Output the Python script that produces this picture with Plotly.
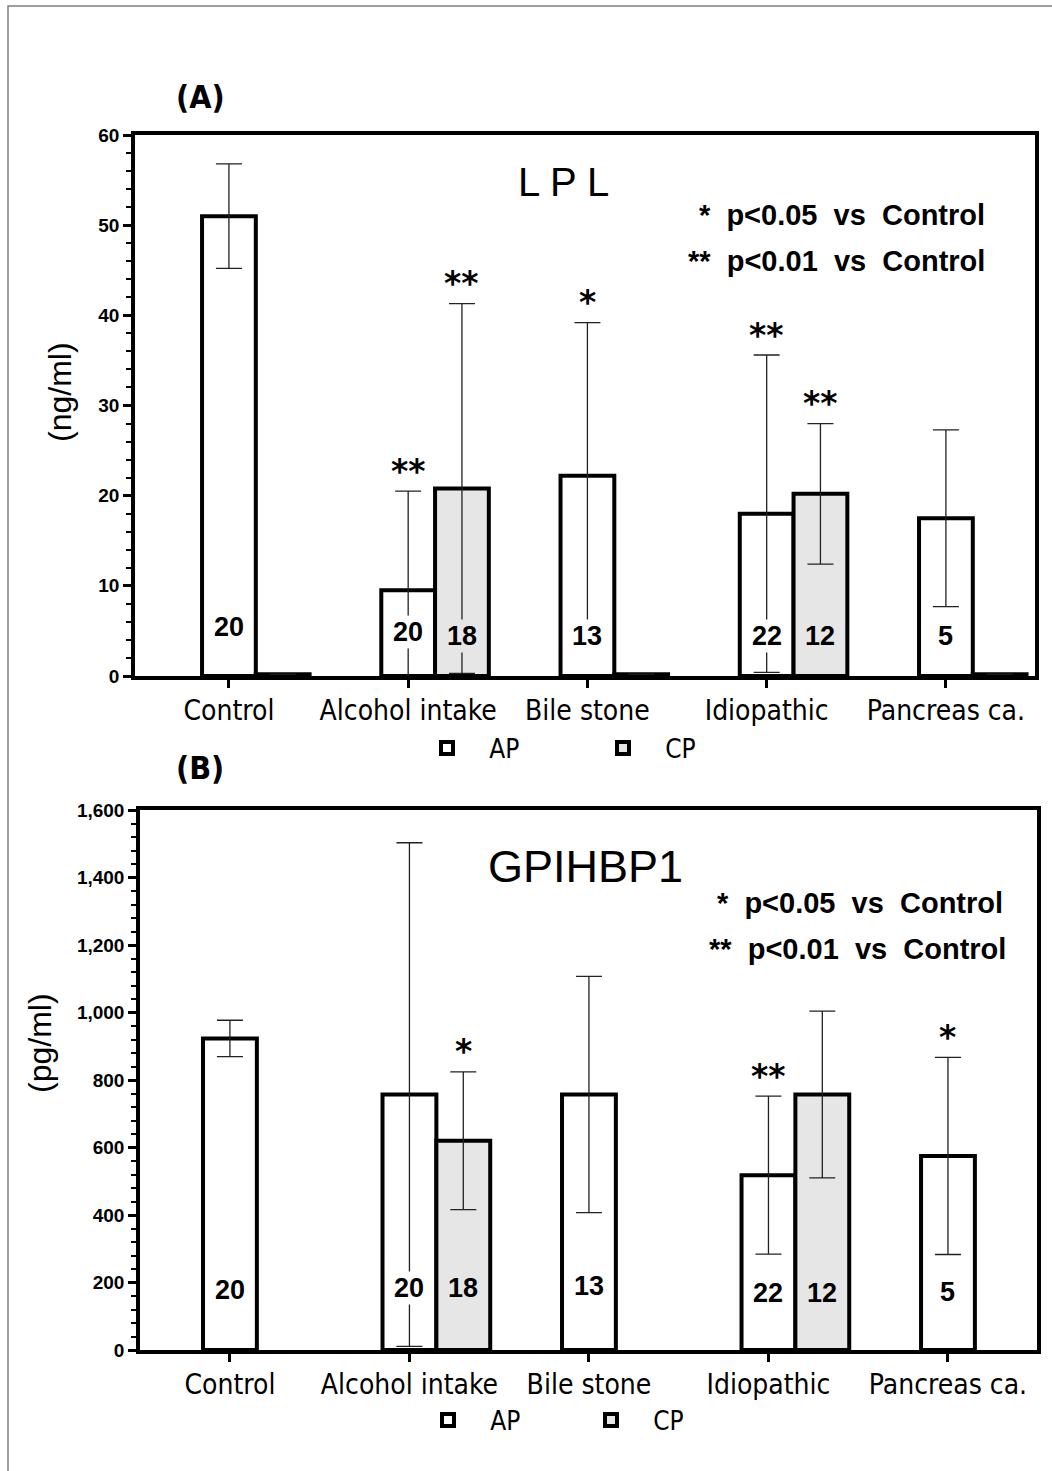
import plotly.graph_objects as go

# ---------------- data ----------------
categories = ["Control", "Alcohol intake", "Bile stone", "Idiopathic", "Pancreas ca."]
cat_pos = [0, 1, 2, 3, 4]
bar_w = 0.3

# (A) LPL, ng/ml
lpl_ap_mean = [51.0, 9.5, 22.2, 18.0, 17.5]
lpl_ap_sd = [5.8, 11.0, 17.0, 17.6, 9.8]
lpl_cp_mean = [0.2, 20.8, 0.2, 20.2, 0.2]
lpl_cp_sd = [0, 20.5, 0, 7.8, 0]
lpl_ap_n = ["20", "20", "13", "22", "5"]
lpl_cp_n = ["", "18", "", "12", ""]
lpl_ap_sig = ["", "**", "*", "**", ""]
lpl_cp_sig = ["", "**", "", "**", ""]

# (B) GPIHBP1, pg/ml
gp_ap_mean = [923, 757, 757, 518, 575]
gp_ap_sd = [54, 746, 350, 234, 292]
gp_cp_mean = [None, 620, None, 757, None]
gp_cp_sd = [None, 204, None, 247, None]
gp_ap_n = ["20", "20", "13", "22", "5"]
gp_cp_n = ["", "18", "", "12", ""]
gp_ap_sig = ["", "", "", "**", "*"]
gp_cp_sig = ["", "*", "", "", ""]

# ---------------- style ----------------
W, H = 1052, 1471
NARROW = "Liberation Sans Narrow, Arial Narrow, DejaVu Sans Condensed, sans-serif"
ARIAL = "Liberation Sans, Arial, sans-serif"
AP_FILL = "#ffffff"
CP_FILL = "#e6e6e6"


def px_x(p):
    return p / W


def px_y(p):
    return 1 - p / H


fig = go.Figure()

cp_pos = [p + bar_w for p in cat_pos]


def add_panel(ap_mean, ap_sd, cp_mean, cp_sd, xa, ya, legend):
    fig.add_trace(go.Bar(
        x=cat_pos, y=ap_mean, width=bar_w, name="   AP",
        marker=dict(color=AP_FILL, line=dict(color="black", width=4)),
        error_y=dict(type="data", array=ap_sd, visible=True,
                     color="#222222", thickness=1.3, width=13),
        xaxis=xa, yaxis=ya, legend=legend, showlegend=True,
    ))
    fig.add_trace(go.Bar(
        x=cp_pos, y=cp_mean, width=bar_w, name="   CP",
        marker=dict(color=CP_FILL, line=dict(color="black", width=4)),
        error_y=dict(type="data", array=cp_sd, visible=True,
                     color="#222222", thickness=1.3, width=13),
        xaxis=xa, yaxis=ya, legend=legend, showlegend=True,
    ))


add_panel(lpl_ap_mean, lpl_ap_sd, lpl_cp_mean, lpl_cp_sd, "x", "y", "legend")
add_panel(gp_ap_mean, gp_ap_sd, gp_cp_mean, gp_cp_sd, "x2", "y2", "legend2")

annotations = []


def add_labels(xref, yref, means, sds, ns, sigs, xs, fill, n_y, star_shift):
    for i in range(len(xs)):
        if ns[i]:
            annotations.append(dict(
                x=xs[i], y=n_y[i], xref=xref, yref=yref, text=ns[i],
                showarrow=False, bgcolor=fill, borderpad=1,
                font=dict(family=ARIAL, size=27, color="black", weight="bold"),
            ))
        if sigs[i] and means[i] is not None:
            annotations.append(dict(
                x=xs[i], y=means[i] + sds[i], xref=xref, yref=yref,
                text=sigs[i], showarrow=False, yanchor="middle", yshift=star_shift,
                font=dict(family="DejaVu Sans, sans-serif", size=33,
                          color="black", weight="bold"),
            ))


nA_ap = [5.4, 4.9, 4.4, 4.4, 4.4]
nA_cp = [0, 4.4, 0, 4.4, 0]
add_labels("x", "y", lpl_ap_mean, lpl_ap_sd, lpl_ap_n, lpl_ap_sig, cat_pos, AP_FILL, nA_ap, 20)
add_labels("x", "y", lpl_cp_mean, lpl_cp_sd, lpl_cp_n, lpl_cp_sig, cp_pos, CP_FILL, nA_cp, 20)
nB_ap = [178, 184, 190, 169, 172]
nB_cp = [0, 184, 0, 169, 0]
add_labels("x2", "y2", gp_ap_mean, gp_ap_sd, gp_ap_n, gp_ap_sig, cat_pos, AP_FILL, nB_ap, 20)
add_labels("x2", "y2", gp_cp_mean, gp_cp_sd, gp_cp_n, gp_cp_sig, cp_pos, CP_FILL, nB_cp, 20)

# titles and texts
texts = [
    ("(A)", 200, 97, dict(family=NARROW, size=32, color="black", weight="bold"), "center", 0),
    ("(B)", 200, 768, dict(family=NARROW, size=32, color="black", weight="bold"), "center", 0),
    ("L P L", 563, 182, dict(family=ARIAL, size=40, color="black"), "center", 0),
    ("GPIHBP1", 585, 866, dict(family=ARIAL, size=45, color="black"), "center", 0),
    ("*  p<0.05  vs  Control", 987, 215, dict(family=ARIAL, size=29, color="black", weight="bold"), "right", 0),
    ("**  p<0.01  vs  Control", 987, 261, dict(family=ARIAL, size=29, color="black", weight="bold"), "right", 0),
    ("*  p<0.05  vs  Control", 1005, 903, dict(family=ARIAL, size=29, color="black", weight="bold"), "right", 0),
    ("**  p<0.01  vs  Control", 1008, 949, dict(family=ARIAL, size=29, color="black", weight="bold"), "right", 0),
    ("(ng/ml)", 60, 392, dict(family=ARIAL, size=32, color="black"), "center", -90),
    ("(pg/ml)", 40, 1043, dict(family=ARIAL, size=32, color="black"), "center", -90),
]
for t, x, y, f, anchor, ang in texts:
    annotations.append(dict(
        x=px_x(x), y=px_y(y), xref="paper", yref="paper", text=t,
        showarrow=False, xanchor=anchor, yanchor="middle", font=f, textangle=ang,
    ))

axis_common = dict(showline=True, linecolor="black", linewidth=3.5, mirror=True,
                   showgrid=False, zeroline=False, ticks="outside", tickcolor="black")

fig.update_layout(
    width=W, height=H,
    margin=dict(l=0, r=0, t=0, b=0, autoexpand=False),
    paper_bgcolor="white", plot_bgcolor="white",
    barmode="overlay",
    annotations=annotations,
    xaxis=dict(domain=[px_x(135), px_x(1035)], range=[-0.524, 4.497], anchor="y",
               tickvals=cat_pos, ticktext=categories, ticklen=8, tickwidth=3,
               ticklabelstandoff=-1,
               tickfont=dict(family=NARROW, size=28, color="black"), **axis_common),
    yaxis=dict(domain=[px_y(676), px_y(135)], range=[0, 60], anchor="x",
               dtick=10, ticklen=8, tickwidth=2.5,
               tickfont=dict(family=ARIAL, size=19, color="black", weight="bold"),
               minor=dict(dtick=2, ticklen=5, tickwidth=1.5, tickcolor="black", ticks="outside"),
               **axis_common),
    xaxis2=dict(domain=[px_x(140), px_x(1037)], range=[-0.501, 4.496], anchor="y2",
                tickvals=cat_pos, ticktext=categories, ticklen=8, tickwidth=3,
                ticklabelstandoff=-1,
                tickfont=dict(family=NARROW, size=28, color="black"), **axis_common),
    yaxis2=dict(domain=[px_y(1350), px_y(810)], range=[0, 1600], anchor="x2",
                dtick=200, tickformat=",", ticklen=8, tickwidth=2.5,
                tickfont=dict(family=ARIAL, size=19, color="black", weight="bold"),
                minor=dict(dtick=40, ticklen=5, tickwidth=1.5, tickcolor="black", ticks="outside"),
                **axis_common),
    legend=dict(orientation="h", x=px_x(427), y=px_y(748), xanchor="left", yanchor="middle",
                entrywidth=131, entrywidthmode="pixels",
                font=dict(family=NARROW, size=26, color="black"), bgcolor="rgba(0,0,0,0)"),
    legend2=dict(orientation="h", x=px_x(428), y=px_y(1420), xanchor="left", yanchor="middle",
                 entrywidth=118, entrywidthmode="pixels",
                 font=dict(family=NARROW, size=26, color="black"), bgcolor="rgba(0,0,0,0)"),
    shapes=[dict(type="rect", xref="paper", yref="paper",
                 x0=px_x(8), y0=px_y(6), x1=1.02, y1=-0.02,
                 line=dict(color="#808080", width=1.5), fillcolor="rgba(0,0,0,0)",
                 layer="below")],
)

fig.write_html("out.html")
